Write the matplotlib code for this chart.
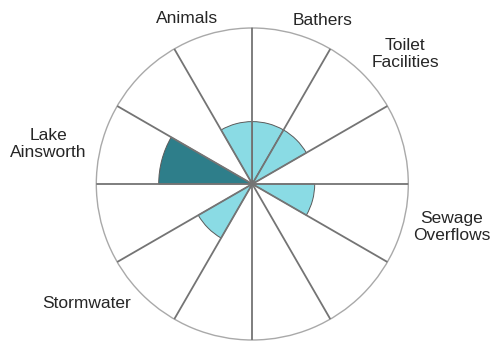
import numpy as np
import matplotlib
matplotlib.use('Agg')
import matplotlib.pyplot as plt

# 12 sectors, clockwise from the top
sector_labels = ['Bathers', 'Toilet\nFacilities', '', 'Sewage\nOverflows', '', '', '',
                 'Stormwater', '', 'Lake\nAinsworth', '', 'Animals']
sector_values = [2, 2, 0, 2, 0, 0, 0, 2, 0, 3, 0, 2]
highlight = 'Lake\nAinsworth'
r_max = 5

# label placement (compass angle in degrees, radius in data units)
label_pos = {
    'Bathers': (23.1, 5.70),
    'Toilet\nFacilities': (49.6, 6.43),
    'Sewage\nOverflows': (102.2, 6.55),
    'Stormwater': (234.3, 6.56),
    'Lake\nAinsworth': (281.1, 6.67),
    'Animals': (338.6, 5.69),
}

light = '#8adbe4'
dark = '#2e7e8a'

plt.rcParams['font.family'] = ['Liberation Sans', 'DejaVu Sans']

fig = plt.figure(figsize=(4.91, 3.43), dpi=100)
ax = fig.add_axes([96.3 / 491, 3 / 343, 312 / 491, 312 / 343], projection='polar')
ax.set_theta_zero_location('N')
ax.set_theta_direction(-1)

n = len(sector_values)
width = 2 * np.pi / n
theta = np.arange(n) * width + width / 2
colors = [dark if lab == highlight else light for lab in sector_labels]
ax.bar(theta, sector_values, width=width, bottom=0, color=colors,
       edgecolor='#5a5a5a', linewidth=0.7, zorder=2)

ax.set_ylim(0, r_max)
ax.set_yticks([])
ax.set_xticks(np.arange(n) * width)
ax.set_xticklabels([])
ax.tick_params(axis='x', length=0)
ax.set_axisbelow(False)
ax.grid(axis='x', color='#747474', linewidth=1.3)
ax.grid(axis='y', visible=False)
ax.spines['polar'].set_color('#a9a9a9')
ax.spines['polar'].set_linewidth(1.0)

for lab in sector_labels:
    if not lab:
        continue
    ang, rad = label_pos[lab]
    ax.text(np.deg2rad(ang), rad, lab, ha='center', va='center',
            fontsize=12.5, color='#262626', linespacing=1.12, clip_on=False)

fig.savefig('out.png', dpi=100)
